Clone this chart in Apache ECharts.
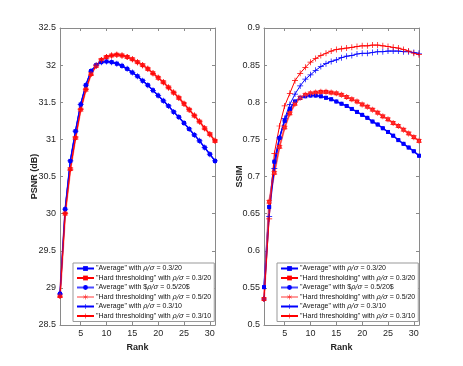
<!DOCTYPE html>
<html>
<head>
<meta charset="utf-8">
<script src="https://cdn.jsdelivr.net/npm/echarts@6/dist/echarts.min.js"></script>
<style>
  html, body { margin: 0; padding: 0; background: #fff; }
  #chart { width: 463px; height: 366px; }
</style>
</head>
<body>
<div id="chart"></div>
<script>
// ranks 1..31
var ranks = [];
for (var r = 1; r <= 31; r++) ranks.push(r);

var legendNames = [
  '"Average" with {i|ρ/σ} = 0.3/20',
  '"Hard thresholding" with {i|ρ/σ} = 0.3/20',
  '"Average" with ${i|ρ/σ} = 0.5/20$',
  '"Hard thresholding" with {i|ρ/σ} = 0.5/20',
  '"Average" with {i|ρ/σ} = 0.3/10',
  '"Hard thresholding" with {i|ρ/σ} = 0.3/10'
];
var seriesNames = ['s1', 's2', 's3', 's4', 's5', 's6'];

// PSNR (dB)
var psnrAvg = [28.92, 30.06, 30.71, 31.11, 31.47, 31.73, 31.92, 32.00, 32.04, 32.05,
  32.04, 32.02, 31.99, 31.95, 31.90, 31.85, 31.79, 31.73, 31.66, 31.59,
  31.52, 31.45, 31.37, 31.30, 31.22, 31.14, 31.06, 30.98, 30.89, 30.80, 30.71];
var psnrHard = [28.89, 30.00, 30.60, 31.02, 31.40, 31.67, 31.88, 31.99, 32.07, 32.11,
  32.13, 32.14, 32.13, 32.11, 32.08, 32.04, 32.00, 31.95, 31.89, 31.83,
  31.77, 31.70, 31.63, 31.56, 31.48, 31.40, 31.32, 31.24, 31.15, 31.07, 30.98];

// SSIM
var ssimAvg20 = [0.551, 0.659, 0.720, 0.752, 0.775, 0.791, 0.801, 0.806, 0.808, 0.809,
  0.809, 0.808, 0.806, 0.804, 0.801, 0.798, 0.795, 0.791, 0.787, 0.783,
  0.779, 0.774, 0.770, 0.765, 0.760, 0.755, 0.749, 0.744, 0.739, 0.734, 0.728];
var ssimHard20 = [0.535, 0.666, 0.705, 0.740, 0.766, 0.785, 0.798, 0.806, 0.810, 0.812,
  0.813, 0.814, 0.814, 0.813, 0.812, 0.810, 0.807, 0.804, 0.801, 0.797,
  0.794, 0.790, 0.786, 0.781, 0.777, 0.772, 0.768, 0.763, 0.758, 0.753, 0.748];
var ssimAvg10 = [0.535, 0.646, 0.711, 0.752, 0.778, 0.797, 0.811, 0.822, 0.831, 0.837,
  0.843, 0.848, 0.852, 0.855, 0.857, 0.860, 0.862, 0.863, 0.865, 0.866,
  0.866, 0.867, 0.868, 0.868, 0.869, 0.869, 0.869, 0.868, 0.868, 0.867, 0.866];
var ssimHard10 = [0.535, 0.643, 0.731, 0.768, 0.795, 0.812, 0.829, 0.839, 0.847, 0.854,
  0.859, 0.863, 0.866, 0.869, 0.871, 0.872, 0.873, 0.874, 0.875, 0.876,
  0.876, 0.877, 0.877, 0.876, 0.875, 0.874, 0.873, 0.871, 0.869, 0.866, 0.864];

var psnrTicks = { min: 28.5, max: 32.5, interval: 0.5 };
var ssimTicks = { min: 0.5, max: 0.9, interval: 0.05 };
var rankTicks = [5, 10, 15, 20, 25, 30];

var plus = 'path://M-0.6,-5 L0.6,-5 L0.6,-0.6 L5,-0.6 L5,0.6 L0.6,0.6 L0.6,5 L-0.6,5 L-0.6,0.6 L-5,0.6 L-5,-0.6 L-0.6,-0.6 Z';
var star = 'path://M-0.6,-5 L0.6,-5 L0.6,-1.2 L3.9,-3.1 L4.5,-2.1 L1.2,0 L4.5,2.1 L3.9,3.1 L0.6,1.2 L0.6,5 L-0.6,5 L-0.6,1.2 L-3.9,3.1 L-4.5,2.1 L-1.2,0 L-4.5,-2.1 L-3.9,-3.1 L-0.6,-1.2 Z';

var styles = [
  { color: '#0000ff', lineColor: '#0000ff', width: 1.2, symbol: 'rect', size: 4 },
  { color: '#ff0000', lineColor: '#ff0000', width: 1.2, symbol: 'rect', size: 4 },
  { color: '#0000ff', lineColor: 'rgba(0,0,255,0.7)', width: 1.5, symbol: 'circle', size: 4 },
  { color: '#ff3030', lineColor: 'rgba(255,90,90,0.6)', width: 2.2, symbol: star, size: 6 },
  { color: '#0000ff', lineColor: '#0000ff', width: 1, symbol: plus, size: 6 },
  { color: '#ff0000', lineColor: '#ff0000', width: 1, symbol: plus, size: 6 }
];

var axisGray = '#8a8a8a';
var textGray = '#262626';
var font = 'Liberation Sans, Arial, sans-serif';

function xAxes(gridIndex) {
  return [{
    type: 'value', gridIndex: gridIndex, min: 1, max: 31,
    name: 'Rank', nameLocation: 'middle', nameGap: 16,
    nameTextStyle: { fontFamily: font, fontSize: 9, fontWeight: 'bold', color: textGray },
    axisLine: { lineStyle: { color: axisGray, width: 1 } },
    axisTick: { inside: true, length: 3, customValues: rankTicks, lineStyle: { color: axisGray } },
    axisLabel: { customValues: rankTicks, fontFamily: font, fontSize: 9, color: textGray, margin: 4 },
    splitLine: { show: false }
  }, {
    type: 'value', gridIndex: gridIndex, min: 1, max: 31, position: 'top',
    axisLine: { lineStyle: { color: axisGray, width: 1 } },
    axisTick: { inside: true, length: 3, customValues: rankTicks, lineStyle: { color: axisGray } },
    axisLabel: { show: false },
    splitLine: { show: false }
  }];
}

function yAxes(gridIndex, t, title, gap) {
  return [{
    type: 'value', gridIndex: gridIndex, min: t.min, max: t.max, interval: t.interval,
    name: title, nameLocation: 'middle', nameGap: gap, nameMoveOverlap: false,
    nameTextStyle: { fontFamily: font, fontSize: 9, fontWeight: 'bold', color: textGray },
    axisLine: { show: true, lineStyle: { color: axisGray, width: 1 } },
    axisTick: { show: true, inside: true, length: 3, lineStyle: { color: axisGray } },
    axisLabel: { fontFamily: font, fontSize: 9, color: textGray, margin: 4 },
    splitLine: { show: false }
  }, {
    type: 'value', gridIndex: gridIndex, min: t.min, max: t.max, interval: t.interval, position: 'right',
    axisLine: { show: true, lineStyle: { color: axisGray, width: 1 } },
    axisTick: { show: true, inside: true, length: 3, lineStyle: { color: axisGray } },
    axisLabel: { show: false },
    splitLine: { show: false }
  }];
}

function legend(left) {
  return {
    orient: 'vertical', left: left, top: 263,
    data: seriesNames,
    backgroundColor: '#fff', borderColor: '#999', borderWidth: 1, borderRadius: 0,
    padding: [2, 3, 2, 3],
    itemWidth: 17, itemHeight: 6, itemGap: 2.5,
    selectedMode: false,
    formatter: function (name) { return legendNames[seriesNames.indexOf(name)]; },
    textStyle: {
      fontFamily: font, fontSize: 7, color: '#111', padding: [0, 0, 0, -3],
      rich: { i: { fontFamily: 'DejaVu Serif, serif', fontStyle: 'italic', fontSize: 7, color: '#111' } }
    }
  };
}

function makeSeries(axisIdx, dataList) {
  return dataList.map(function (vals, k) {
    var st = styles[k];
    return {
      name: seriesNames[k], type: 'line',
      xAxisIndex: axisIdx, yAxisIndex: axisIdx,
      data: ranks.map(function (x, i) { return [x, vals[i]]; }),
      symbol: st.symbol, symbolSize: st.size, showSymbol: true,
      itemStyle: { color: st.color },
      lineStyle: { color: st.lineColor, width: st.width },
      emphasis: { disabled: true },
      animation: false
    };
  });
}

var chart = echarts.init(document.getElementById('chart'));
chart.setOption({
  backgroundColor: '#fff',
  animation: false,
  grid: [
    { left: 60, top: 28, width: 155, height: 297 },
    { left: 264, top: 28, width: 155, height: 297 }
  ],
  legend: [legend(73), legend(277)],
  xAxis: xAxes(0).concat(xAxes(1)),
  yAxis: yAxes(0, psnrTicks, 'PSNR (dB)', 21).concat(yAxes(1, ssimTicks, 'SSIM', 20)),
  series: makeSeries(0, [psnrAvg, psnrHard, psnrAvg, psnrHard, psnrAvg, psnrHard])
    .concat(makeSeries(2, [ssimAvg20, ssimHard20, ssimAvg20, ssimHard20, ssimAvg10, ssimHard10]))
});
</script>
</body>
</html>
